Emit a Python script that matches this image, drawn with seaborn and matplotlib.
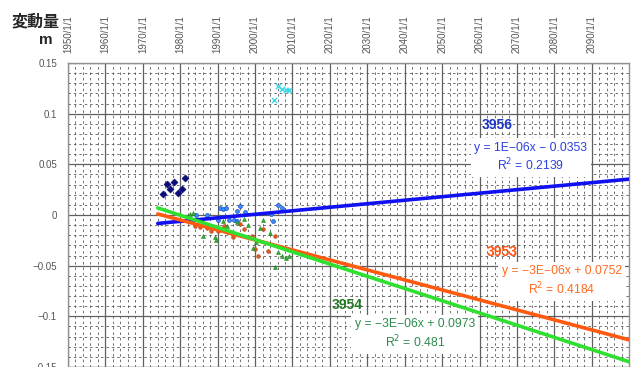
import matplotlib
matplotlib.use('Agg')
import matplotlib.pyplot as plt
import matplotlib.ticker as mticker
import numpy as np
import pandas as pd
import seaborn as sns

# older survey (navy diamonds, no trendline)
old_years = [1975.3, 1976.4, 1977.25, 1978.2, 1979.4, 1980.4, 1981.3]
old_values = [0.021, 0.031, 0.026, 0.033, 0.0215, 0.026, 0.037]

# cyan crosses
cyan_years = [2005.0, 2006.2, 2007.25, 2008.2, 2009.1]
cyan_values = [0.113, 0.127, 0.124, 0.123, 0.123]

# 3956 (blue circles)
s3956_years = [1984.2, 1987.1, 1990.1, 1990.6, 1991.3, 1992.2, 1993.0, 1994.3, 1995.2,
               1995.3, 1996.1, 1997.3, 2004.2, 2004.8, 2006.1, 2007.2]
s3956_values = [0.0, 0.0, -0.0054, 0.0069, 0.0064, 0.0074, -0.0054, -0.0054, -0.0064,
                0.0035, 0.0084, 0.0028, 0.0005, -0.0064, 0.0094, 0.0069]

# 3953 (orange circles)
s3953_years = [1982.1, 1983.9, 1985.3, 1987.1, 1988.2, 1990.1, 1991.7, 1992.7, 1994.1,
               1996.0, 1997.0, 1999.2, 2000.0, 2000.8, 2002.1, 2003.5, 2005.3]
s3953_values = [-0.0044, -0.0104, -0.0118, -0.0133, -0.0158, -0.0158, -0.0108, -0.0168,
                -0.0217, -0.0089, -0.0143, -0.0207, -0.034, -0.0404, -0.0143, -0.0355, -0.0207]

# 3954 (green triangles)
s3954_years = [1982.6, 1983.3, 1986.1, 1989.3, 1989.6, 1991.3, 1992.5, 1995.2, 1997.0,
               1998.1, 1999.4, 2000.2, 2001.3, 2002.1, 2004.0, 2005.3, 2006.1, 2007.2,
               2008.2, 2009.2]
s3954_values = [0.0005, 0.0015, -0.0212, -0.0217, -0.0247, -0.0064, -0.0104, -0.0069,
                -0.0035, -0.0094, -0.033, -0.0271, -0.0133, -0.0049, -0.0182, -0.0518,
                -0.0367, -0.0406, -0.0422, -0.0406]

# linear trendlines (x = Excel date serial)
trend_names = ['3956', '3953', '3954']
trend_slopes = [9.5e-7, -2.7e-6, -3.3e-6]
trend_intercepts = [-0.0340, 0.0740, 0.0962]
trend_range = [1974, 2100]
trend_labels = ['y = 1E\u221206x \u2212 0.0353\nR$^2$ = 0.2139',
                'y = \u22123E\u221206x + 0.0752\nR$^2$ = 0.4184',
                'y = \u22123E\u221206x + 0.0973\nR$^2$ = 0.481']

line_colors = {'3956': '#1010f0', '3953': '#ff5a10', '3954': '#30e030'}
name_colors = {'3956': '#1c36c8', '3953': '#ff5010', '3954': '#237a23'}
eq_colors = {'3956': '#2a40e0', '3953': '#ff6a20', '3954': '#2e8b4e'}


def to_serial(year):
    return (np.asarray(year, dtype=float) - 1900) * 365.2425 + 1


sns.set_theme(style='white')
plt.rcParams['font.family'] = ['Liberation Sans', 'Noto Sans CJK JP', 'DejaVu Sans']
plt.rcParams['axes.unicode_minus'] = True

fig = plt.figure(figsize=(6.33, 3.67), dpi=100)
ax = fig.add_axes([68 / 633, 0.0, 561 / 633, 1 - 63 / 367])

ax.set_xlim(1950, 2099.95)
ax.set_ylim(-0.15, 0.15)

ax.xaxis.set_major_locator(mticker.MultipleLocator(10))
ax.xaxis.set_minor_locator(mticker.MultipleLocator(2))
ax.yaxis.set_major_locator(mticker.MultipleLocator(0.05))
ax.yaxis.set_minor_locator(mticker.MultipleLocator(0.01))
ax.grid(which='major', color='#606060', linewidth=0.9, linestyle='-')
ax.grid(which='minor', color='#5a5a5a', linewidth=0.6, linestyle=(0, (3, 3.5)))
ax.set_axisbelow(True)

ax.xaxis.tick_top()
ax.xaxis.set_major_formatter(mticker.FuncFormatter(lambda v, p: f'{int(round(v))}/1/1'))
ax.yaxis.set_major_formatter(mticker.FuncFormatter(
    lambda v, p: '0' if abs(v) < 1e-9 else f'{v:g}'.replace('-', '\u2212')))
ax.tick_params(axis='x', which='major', labelsize=7, labelcolor='#555555', rotation=90,
               length=0, pad=7)
ax.tick_params(axis='y', which='major', labelsize=7, labelcolor='#555555', length=0, pad=8)
ax.tick_params(which='minor', length=0)
for lbl in ax.get_xticklabels():
    lbl.set_verticalalignment('bottom')
for spine in ax.spines.values():
    spine.set_color('#909090')
    spine.set_linewidth(1)

sns.scatterplot(x=old_years, y=old_values, ax=ax, marker='D', s=13, color='#0a0a78',
                edgecolor='#0a0a78', linewidth=0.4, zorder=3)
sns.scatterplot(x=cyan_years, y=cyan_values, ax=ax, marker='x', s=14, color='#40d8e8',
                linewidth=1.0, zorder=3)
sns.scatterplot(x=s3956_years, y=s3956_values, ax=ax, marker='o', s=8, color='#3a8cff',
                edgecolor='#1a50c0', linewidth=0.5, zorder=3)
sns.scatterplot(x=s3953_years, y=s3953_values, ax=ax, marker='o', s=7, color='#e05a20',
                edgecolor='#b04010', linewidth=0.4, zorder=3)
sns.scatterplot(x=s3954_years, y=s3954_values, ax=ax, marker='^', s=8, color='#30b030',
                edgecolor='#208020', linewidth=0.4, zorder=3)

for name, slope, icpt in zip(trend_names, trend_slopes, trend_intercepts):
    yrs = np.array(trend_range, dtype=float)
    trend = pd.DataFrame({'year': yrs, 'value': slope * to_serial(yrs) + icpt})
    sns.lineplot(data=trend, x='year', y='value', ax=ax, color=line_colors[name],
                 linewidth=2.6, zorder=4)

name_pos = {'3956': (2064.6, 0.0892), '3953': (2066.0, -0.037), '3954': (2024.5, -0.0892)}
eq_pos = {'3956': (2073.7, 0.0567), '3953': (2082.0, -0.0656), '3954': (2042.7, -0.1178)}
for name, label in zip(trend_names, trend_labels):
    ax.text(*name_pos[name], name, color=name_colors[name], fontsize=10, fontweight='bold',
            ha='center', va='center', zorder=5)
    ax.text(*eq_pos[name], label, color=eq_colors[name], fontsize=8.7, ha='center',
            va='center', linespacing=1.25, zorder=5,
            bbox=dict(facecolor='white', edgecolor='none', pad=2.5))

ax.set_xlabel('')
ax.set_ylabel('')

fig.text(12 / 633, 1 - 21 / 367, '変動量', fontsize=11.5, fontweight='bold',
         family=['Noto Sans CJK JP'], ha='left', va='center')
fig.text(53 / 633, 1 - 40 / 367, 'm', fontsize=11, fontweight='bold',
         ha='right', va='center')

fig.savefig('out.png', dpi=100)
